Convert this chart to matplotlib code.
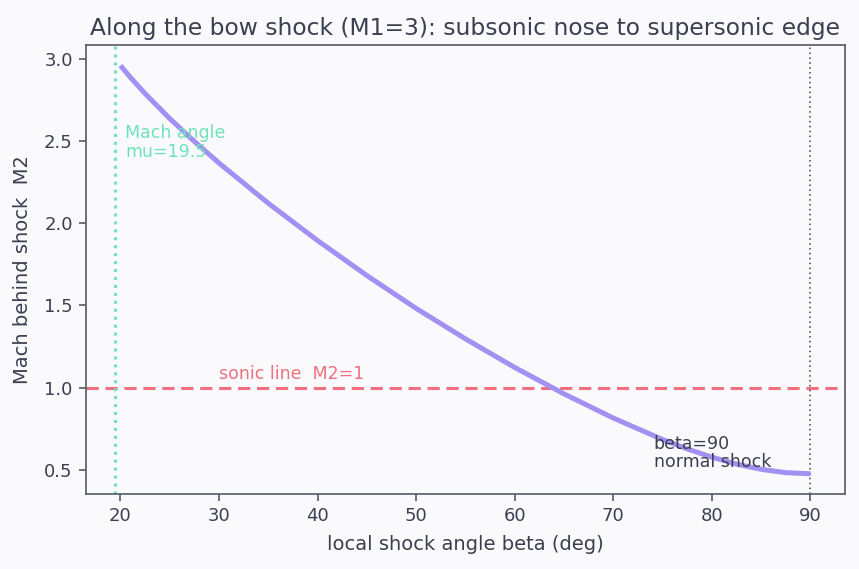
import matplotlib
matplotlib.use("Agg")
import matplotlib.pyplot as plt

beta_deg = [20, 21, 22.5, 25, 27.5, 30, 35, 40, 45, 50, 55, 60, 65, 70, 75, 77.5,
            80, 82.5, 85, 87.5, 90]
mach2 = [2.961, 2.889, 2.790, 2.638, 2.4986, 2.367, 2.122, 1.895, 1.682, 1.482, 1.2965,
         1.1225, 0.9615, 0.8143, 0.6836, 0.6264, 0.5761, 0.5340, 0.5021, 0.4820, 0.4752]
mach_angle = 19.47
sonic = 1.0

bg = "#fafafd"
txt = "#3b4050"
fig = plt.figure(figsize=(8.59, 5.69), dpi=100, facecolor=bg)
ax = fig.add_axes([0.1001, 0.1318, 0.8836, 0.7891], facecolor=bg)

ax.plot(beta_deg, mach2, color="#a290f2", lw=3.6, solid_capstyle="butt",
        solid_joinstyle="round", zorder=3)
ax.axhline(sonic, color="#f0707f", lw=2.2, ls=(0, (4, 2.2)), zorder=2)
ax.axvline(mach_angle, color="#6fe2b9", lw=2.2, ls=(0, (1, 1.6)), zorder=2)
ax.axvline(90, color="#3b3f48", lw=1.1, ls=(0, (1, 2.2)), zorder=2)

ax.text(mach_angle + 1.0, 2.38, "Mach angle\nmu=19.5", color="#6fe2b9", fontsize=12.5,
        va="bottom", ha="left", linespacing=1.05)
ax.text(30, 1.03, "sonic line  M2=1", color="#f0707f", fontsize=12.5, va="bottom", ha="left")
ax.text(74.1, 0.49, "beta=90\nnormal shock", color=txt, fontsize=12.5, va="bottom", ha="left",
        linespacing=1.05)

ax.set_xlim(16.5, 93.5)
ax.set_ylim(0.352, 3.086)
ax.set_xticks([20, 30, 40, 50, 60, 70, 80, 90])
ax.set_yticks([0.5, 1.0, 1.5, 2.0, 2.5, 3.0])

ax.set_title("Along the bow shock (M1=3): subsonic nose to supersonic edge", fontsize=16.8,
             color=txt, pad=7)
ax.set_xlabel("local shock angle beta (deg)", fontsize=14, color=txt, labelpad=7)
ax.set_ylabel("Mach behind shock  M2", fontsize=14, color=txt, labelpad=9)
for s in ax.spines.values():
    s.set_color("#555a66")
    s.set_linewidth(1.2)
ax.tick_params(colors="#555a66", labelcolor=txt, labelsize=13, length=5, width=1.2, pad=4.5)

fig.savefig("out.png", dpi=100, facecolor=bg)
